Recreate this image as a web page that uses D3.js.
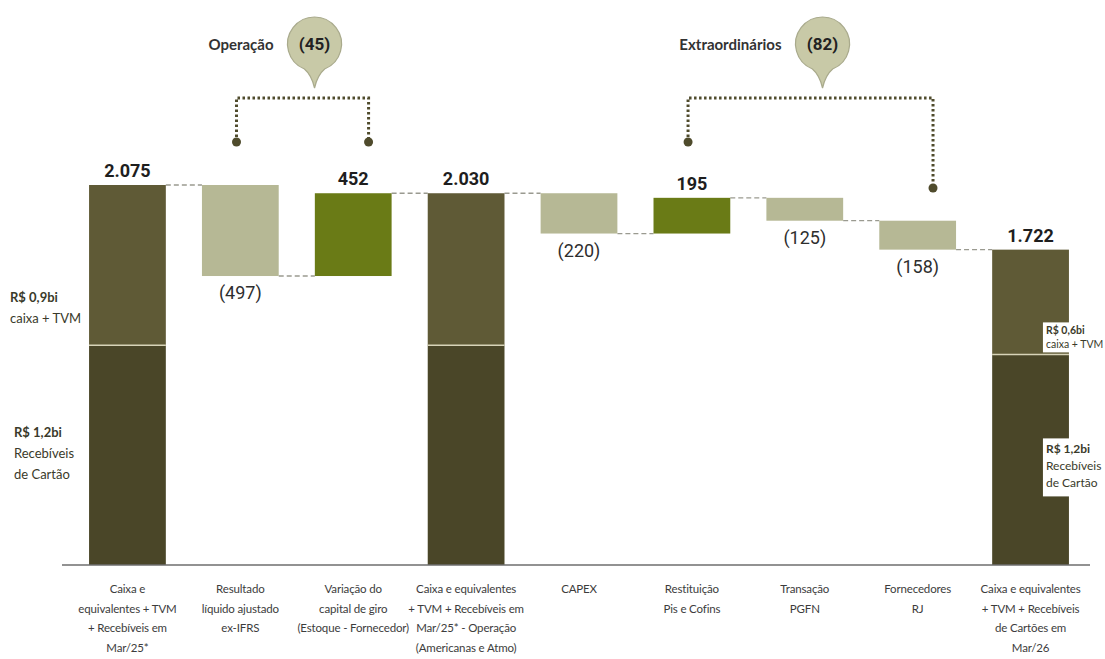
<!DOCTYPE html>
<html>
<head>
<meta charset="utf-8">
<script src="https://cdn.jsdelivr.net/npm/d3@7"></script>
<style>
  body { margin: 0; background: #fff; }
  #chart svg { display: block; }
  .num { font-family: Roboto, "Liberation Sans", sans-serif; }
  .cat { font-family: Lato, "Open Sans", sans-serif; }
</style>
</head>
<body>
<div id="chart"></div>
<script>
// Data (R$ milhões)
const categories = [
  ["Caixa e", "equivalentes + TVM", "+ Recebíveis em", "Mar/25*"],
  ["Resultado", "líquido ajustado", "ex-IFRS"],
  ["Variação do", "capital de giro", "(Estoque - Fornecedor)"],
  ["Caixa e equivalentes", "+ TVM + Recebíveis em", "Mar/25* - Operação", "(Americanas e Atmo)"],
  ["CAPEX"],
  ["Restituição", "Pis e Cofins"],
  ["Transação", "PGFN"],
  ["Fornecedores", "RJ"],
  ["Caixa e equivalentes", "+ TVM + Recebíveis", "de Cartões em", "Mar/26"]
];
const kinds = ["total", "delta", "delta", "total", "delta", "delta", "delta", "delta", "total"];
const values = [2075, -497, 452, 2030, -220, 195, -125, -158, 1722];
// card receivables part of the total bars (rest is caixa + TVM)
const receivables = [1200, null, null, 1200, null, null, null, null, 1150];

const groups = [
  { label: "Operação", value: -45, from: 1, to: 2, endY: [142, 142] },
  { label: "Extraordinários", value: -82, from: 5, to: 7, endY: [142, 188] }
];

// Set dimensions
const width = 1105;
const height = 659;
const baseY = 565;

const svg = d3.select("#chart")
  .append("svg")
  .attr("width", width)
  .attr("height", height);

// Build waterfall steps
let running = 0;
const steps = values.map((v, i) => {
  let start, end;
  if (kinds[i] === "total") {
    start = 0; end = v; running = v;
  } else {
    start = running; end = running + v; running = end;
  }
  return { i, kind: kinds[i], value: v, start, end, rec: receivables[i] };
});

// Scales
const xScale = d3.scaleBand()
  .domain(d3.range(categories.length))
  .range([71, 1087])
  .paddingInner(0.32)
  .paddingOuter(0.16);

const yScale = d3.scaleLinear()
  .domain([0, d3.max(values)])
  .range([baseY, 185]);

const colors = {
  cash: "#5f5a36",
  rec: "#4a4628",
  neg: "#b6b895",
  pos: "#6a7b16",
  bracket: "#4f4b2c"
};

const ptBR = d3.formatLocale({ decimal: ",", thousands: ".", grouping: [3], currency: ["R$", ""] });
const fmt = ptBR.format(",d");

// Connector dashed lines
steps.slice(0, -1).forEach((d, k) => {
  const next = steps[k + 1];
  svg.append("line")
    .attr("x1", xScale(d.i) + xScale.bandwidth())
    .attr("x2", xScale(next.i))
    .attr("y1", yScale(d.end))
    .attr("y2", yScale(d.end))
    .attr("stroke", "#9a9a90")
    .attr("stroke-width", 1.3)
    .attr("stroke-dasharray", "5,3");
});

// Total bars (two segments)
const totals = steps.filter(d => d.kind === "total");
svg.selectAll(".seg-rec")
  .data(totals)
  .join("rect")
  .attr("x", d => xScale(d.i))
  .attr("width", xScale.bandwidth())
  .attr("y", d => yScale(d.rec))
  .attr("height", d => yScale(0) - yScale(d.rec))
  .attr("fill", colors.rec);

svg.selectAll(".seg-cash")
  .data(totals)
  .join("rect")
  .attr("x", d => xScale(d.i))
  .attr("width", xScale.bandwidth())
  .attr("y", d => yScale(d.end))
  .attr("height", d => yScale(d.rec) - yScale(d.end))
  .attr("fill", colors.cash);

svg.selectAll(".seg-split")
  .data(totals)
  .join("line")
  .attr("x1", d => xScale(d.i))
  .attr("x2", d => xScale(d.i) + xScale.bandwidth())
  .attr("y1", d => yScale(d.rec))
  .attr("y2", d => yScale(d.rec))
  .attr("stroke", "#d8d4b8")
  .attr("stroke-width", 1.5);

// Delta bars
const deltas = steps.filter(d => d.kind === "delta");
svg.selectAll(".delta")
  .data(deltas)
  .join("rect")
  .attr("x", d => xScale(d.i))
  .attr("width", xScale.bandwidth())
  .attr("y", d => yScale(Math.max(d.start, d.end)))
  .attr("height", d => Math.abs(yScale(d.start) - yScale(d.end)))
  .attr("fill", d => d.value < 0 ? colors.neg : colors.pos);

// Value labels
svg.selectAll(".val")
  .data(steps)
  .join("text")
  .attr("class", "num")
  .attr("x", d => xScale(d.i) + xScale.bandwidth() / 2)
  .attr("y", d => d.value < 0
    ? yScale(Math.min(d.start, d.end)) + 23
    : yScale(Math.max(d.start, d.end)) - 8)
  .attr("text-anchor", "middle")
  .attr("font-size", 18)
  .attr("font-weight", d => d.value < 0 ? "normal" : "bold")
  .attr("fill", d => d.value < 0 ? "#2e2e2e" : "#1e1e1e")
  .text(d => d.value < 0 ? `(${fmt(-d.value)})` : fmt(d.value));

// X axis with multi-line labels
const bottomAxis = d3.axisBottom(xScale).tickSize(0).tickFormat("");
const axisG = svg.append("g")
  .attr("transform", `translate(0, ${baseY})`)
  .call(bottomAxis);
axisG.select(".domain")
  .attr("stroke", "#6e6e6e")
  .attr("stroke-width", 1.6)
  .attr("d", `M${62},0H${1090}`);

axisG.selectAll(".tick")
  .append("text")
  .attr("class", "cat")
  .attr("text-anchor", "middle")
  .attr("fill", "#3c3c3c")
  .attr("font-size", 11.5)
  .attr("letter-spacing", -0.15)
  .selectAll("tspan")
  .data(d => categories[d])
  .join("tspan")
  .attr("x", 0)
  .attr("y", (d, j) => 28 + j * 19.5)
  .text(d => d);

// Side notes on the first total bar
const note = (x, y, lines, size, step) => {
  const t = svg.append("text")
    .attr("class", "cat")
    .attr("font-size", size)
    .attr("fill", "#3a3a2a");
  lines.forEach((l, j) => {
    t.append("tspan")
      .attr("x", x)
      .attr("y", y + j * step)
      .attr("font-weight", j === 0 ? "bold" : "normal")
      .text(l);
  });
};
note(10, 302, ["R$ 0,9bi", "caixa + TVM"], 13, 21);
note(14, 437, ["R$ 1,2bi", "Recebíveis", "de Cartão"], 13, 21);

// Notes on the last total bar, on white boxes
const last = steps[steps.length - 1];
const lx = xScale(last.i) + xScale.bandwidth() - 26;
svg.append("rect").attr("x", lx).attr("y", yScale(last.rec) - 32)
  .attr("width", 64).attr("height", 30).attr("fill", "#fff");
svg.append("rect").attr("x", lx).attr("y", yScale(last.rec) + 84)
  .attr("width", 64).attr("height", 58).attr("fill", "#fff");
note(lx + 3, yScale(last.rec) - 20, ["R$ 0,6bi", "caixa + TVM"], 10.5, 14);
note(lx + 3, yScale(last.rec) + 99, ["R$ 1,2bi", "Recebíveis", "de Cartão"], 12, 17);

// Group brackets with bubbles
const bracketY = 98;
groups.forEach(g => {
  const xa = xScale(g.from) + xScale.bandwidth() * 0.45;
  const xb = xScale(g.to) + xScale.bandwidth() * 0.7;
  svg.append("path")
    .attr("d", `M${xa},${g.endY[0]}V${bracketY}H${xb}V${g.endY[1]}`)
    .attr("fill", "none")
    .attr("stroke", colors.bracket)
    .attr("stroke-width", 3)
    .attr("stroke-dasharray", "2.5,2.5");
  [[xa, g.endY[0]], [xb, g.endY[1]]].forEach(p => {
    svg.append("circle")
      .attr("cx", p[0]).attr("cy", p[1]).attr("r", 4.5)
      .attr("fill", colors.bracket);
  });

  // Bubble
  const cx = (xa + xb) / 2 + 12;
  const cy = 44;
  const r = 27;
  const tipY = 88;
  const a = 22 * Math.PI / 180;
  const p1 = [cx + r * Math.sin(a), cy + r * Math.cos(a)];
  const p2 = [cx - r * Math.sin(a), cy + r * Math.cos(a)];
  svg.append("path")
    .attr("d", `M${cx},${tipY}Q${cx + 3},${p1[1] + 6} ${p1[0]},${p1[1]}A${r},${r} 0 1 0 ${p2[0]},${p2[1]}Q${cx - 3},${p2[1] + 6} ${cx},${tipY}Z`)
    .attr("fill", "#c8c9a7")
    .attr("stroke", "#a9aa8c")
    .attr("stroke-width", 1.2);
  svg.append("text")
    .attr("class", "num")
    .attr("x", cx).attr("y", cy + 6)
    .attr("text-anchor", "middle")
    .attr("font-size", 17)
    .attr("font-weight", "bold")
    .attr("fill", "#222")
    .text(`(${fmt(-g.value)})`);
  svg.append("text")
    .attr("class", "cat")
    .attr("x", cx - r - 14).attr("y", cy + 6)
    .attr("text-anchor", "end")
    .attr("font-size", 15)
    .attr("font-weight", "bold")
    .attr("fill", "#333")
    .text(g.label);
});
</script>
</body>
</html>
